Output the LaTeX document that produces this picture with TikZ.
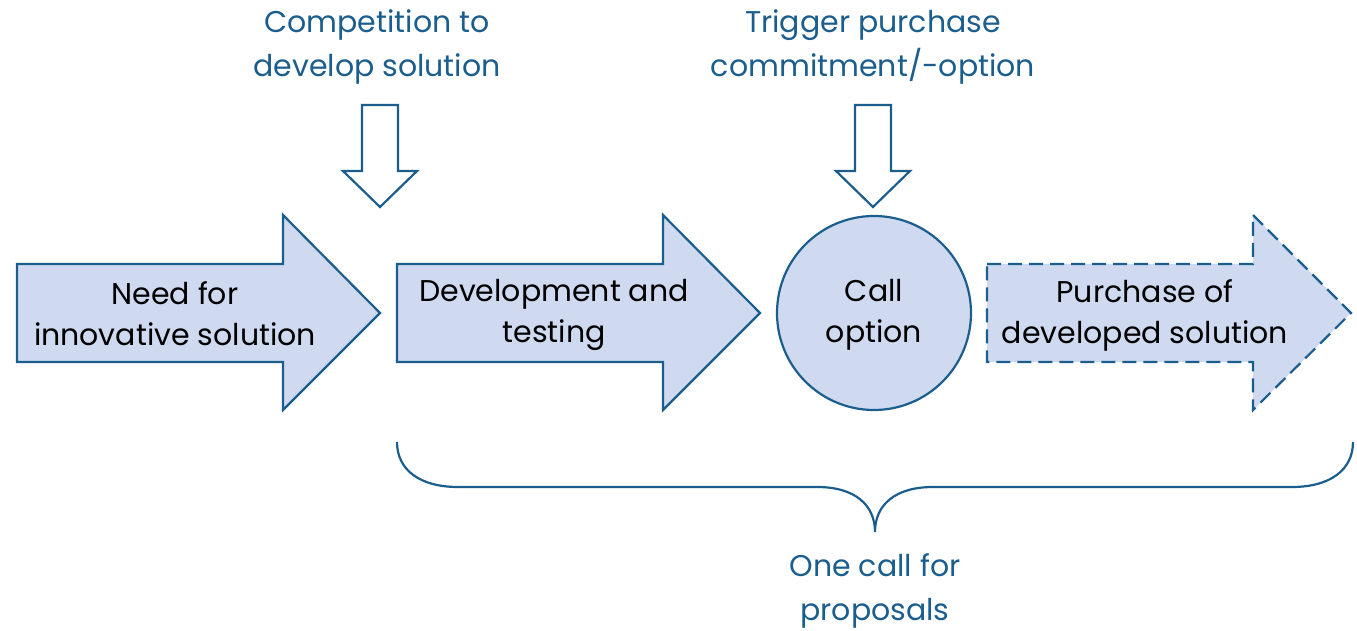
\documentclass[tikz,border=0pt]{standalone}
\usepackage{fontspec}
\setmainfont{Poppins}
\definecolor{lineblue}{HTML}{1B5E8E}
\definecolor{fillblue}{HTML}{CFD9F0}
\begin{document}
\begin{tikzpicture}[x=0.5pt,y=-0.5pt,
  shapeline/.style={draw=lineblue,line width=1.1pt,line join=miter},
  bigarrow/.style={shapeline,fill=fillblue},
  downarrow/.style={shapeline,fill=white},
  boxtext/.style={align=center,font=\fontsize{15}{20.5}\selectfont,text=black,inner sep=0pt},
  bluetext/.style={align=center,font=\fontsize{15}{22}\selectfont,text=lineblue,inner sep=0pt}]
\useasboundingbox (0,0) rectangle (1357,631);
% big arrows
\draw[bigarrow] (17,264) -- (283,264) -- (283,215) -- (380,313) -- (283,410) -- (283,362) -- (17,362) -- cycle;
\draw[bigarrow] (397,264) -- (663,264) -- (663,215) -- (760,313) -- (663,410) -- (663,362) -- (397,362) -- cycle;
\draw[bigarrow,dash pattern=on 7pt off 3.5pt] (987,264) -- (1253,264) -- (1253,215) -- (1351,313) -- (1253,410) -- (1253,362) -- (987,362) -- cycle;
\draw[bigarrow] (874,313) circle[radius=97];
% down arrows
\draw[downarrow] (362,105) -- (398,105) -- (398,171) -- (417,171) -- (380,207) -- (343,171) -- (362,171) -- cycle;
\draw[downarrow] (855,105) -- (891,105) -- (891,171) -- (910,171) -- (873,207) -- (836,171) -- (855,171) -- cycle;
% texts
\node[boxtext] (need) at (175,314) {Need for\\innovative solution};
\node[boxtext] (dev) at (554,315) {Development and\\testing};
\node[boxtext] (call) at (874,315) {Call\\option};
\node[boxtext] (purch) at (1145,315) {Purchase of\\developed solution};
\node[bluetext] (comp) at (377,47) {Competition to\\develop solution};
\node[bluetext] (trig) at (873,47) {Trigger purchase\\commitment/-option};
\node[bluetext] (one) at (875,591) {One call for\\proposals};
% brace
\draw[lineblue,line width=1.1pt] (397,442) .. controls (397,470) and (420,487) .. (458,487)
  -- (817,487) .. controls (855,487) and (875,505) .. (875,532)
  .. controls (875,505) and (895,487) .. (933,487)
  -- (1292,487) .. controls (1330,487) and (1353,470) .. (1353,442);
\end{tikzpicture}
\end{document}
